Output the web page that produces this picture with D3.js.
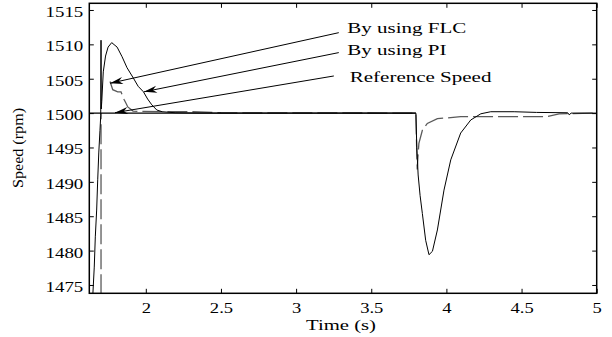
<!DOCTYPE html>
<html><head><meta charset="utf-8">
<script src="https://cdn.jsdelivr.net/npm/d3@7/dist/d3.min.js"></script>
<style>
html,body{margin:0;padding:0;background:#fff;}
svg{display:block;}
</style></head>
<body><svg id="c" width="612" height="337"></svg>
<script>
// ---- data ----
const xDomain = [1.624, 5];
const yDomain = [1473.79, 1515.97];
const xTicks = [2, 2.5, 3, 3.5, 4, 4.5, 5];
const yTicks = [1475, 1480, 1485, 1490, 1495, 1500, 1505, 1510, 1515];

// Reference speed
const refTime  = [1.624, 3.797];
const refSpeed = [1500, 1500];

// PI controller response
const piTime  = [1.640, 1.648, 1.657, 1.664, 1.673, 1.680, 1.687, 1.695, 1.700, 1.702, 1.7035, 1.707, 1.717, 1.732, 1.749, 1.773, 1.809, 1.842, 1.875, 1.917, 1.949, 1.984, 2.012, 2.040, 2.073, 2.109, 2.195, 2.36, 3.797, 3.803, 3.812, 3.825, 3.840, 3.862, 3.884, 3.907, 3.940, 3.984, 4.029, 4.095, 4.162, 4.229, 4.295, 4.451, 4.600, 4.807, 4.817, 4.830, 5.0];
const piSpeed = [1470, 1473.8, 1477.6, 1482.0, 1485.9, 1490.3, 1494.2, 1497.5, 1499.6, 1510.6, 1500.6, 1501.7, 1506.0, 1508.3, 1509.6, 1510.25, 1509.6, 1508.2, 1506.6, 1505.1, 1503.9, 1503.1, 1502.05, 1501.2, 1500.45, 1500.2, 1500.05, 1500, 1500, 1495, 1491, 1488, 1485.4, 1481.5, 1479.4, 1479.9, 1483.0, 1488.8, 1493.2, 1497.1, 1499.0, 1499.9, 1500.2, 1500.2, 1500.1, 1500.05, 1499.75, 1500, 1500];

// FLC response (null = gap)
const flcTime  = [1.702, 1.702, 1.7021, 1.762, 1.780, 1.813, 1.835, 1.847, 1.857, 1.869, 1.880, 1.915, 1.95, 2.30, 2.50, 3.797, 3.803, 3.806, 3.810, 3.817, 3.840, 3.873, 3.940, 4.007, 4.095, 4.670, 4.750, 5.0];
const flcSpeed = [1470, 1500, null, 1504.6, 1503.4, 1503.1, 1503.1, 1502.4, 1501.9, 1501.4, 1500.9, 1500.3, 1500.25, 1500.2, 1500.05, 1500, 1494, 1491.8, 1493.5, 1495.6, 1497.5, 1498.5, 1499.2, 1499.3, 1499.5, 1499.5, 1499.9, 1500];

// Annotations (data coordinates)
const annoLabels = ["By using FLC", "By using PI", "Reference Speed"];
const annoTipT   = [1.762, 1.988, 1.795];
const annoTipV   = [1504.34, 1503.1, 1500.06];
const annoTailT  = [3.284, 3.284, 3.251];
const annoTailV  = [1511.7, 1508.8, 1505.4];
const annoTextT  = [3.340, 3.340, 3.357];
const annoTextV  = [1511.6, 1508.45, 1504.57];

// ---- chart ----
const FONT = '"Liberation Serif", "Times New Roman", Tinos, "DejaVu Serif", serif';
const W = 612, H = 337;
const m = {left: 89.3, right: 15.3, top: 3.3, bottom: 43.7};
const svg = d3.select("#c");
const x = d3.scaleLinear().domain(xDomain).range([m.left, W - m.right]);
const y = d3.scaleLinear().domain(yDomain).range([H - m.bottom, m.top]);

function stretch(sel, f) {
  sel.each(function () {
    const L = this.getComputedTextLength();
    d3.select(this).attr("textLength", L * f).attr("lengthAdjust", "spacingAndGlyphs");
  });
}

svg.append("defs").append("clipPath").attr("id", "clip")
  .append("rect").attr("x", m.left).attr("y", m.top)
  .attr("width", W - m.left - m.right).attr("height", H - m.top - m.bottom);

const line = d3.line().defined(d => d[1] !== null).x(d => x(d[0])).y(d => y(d[1]));
const zip = (a, b) => a.map((v, i) => [v, b[i]]);

const g = svg.append("g").attr("clip-path", "url(#clip)");
g.append("path").datum(zip(flcTime, flcSpeed)).attr("d", line)
  .attr("fill", "none").attr("stroke", "#5a5a5a").attr("stroke-width", 1.3)
  .attr("stroke-dasharray", "20,5");
g.append("path").datum(zip(piTime, piSpeed)).attr("d", line)
  .attr("fill", "none").attr("stroke", "#000").attr("stroke-width", 1);
g.append("path").datum(zip(refTime, refSpeed)).attr("d", line)
  .attr("fill", "none").attr("stroke", "#000").attr("stroke-width", 1.2);

// axes (inward ticks on all sides)
const tl = 4.5;
const axB = d3.axisBottom(x).tickValues(xTicks).tickSizeInner(-tl).tickSizeOuter(0).tickPadding(9).tickFormat(d3.format("~g"));
const axT = d3.axisTop(x).tickValues(xTicks).tickSizeInner(-tl).tickSizeOuter(0).tickFormat("");
const axL = d3.axisLeft(y).tickValues(yTicks).tickSizeInner(-tl).tickSizeOuter(0).tickPadding(6).tickFormat(d3.format("d"));
const axR = d3.axisRight(y).tickValues(yTicks).tickSizeInner(-tl).tickSizeOuter(0).tickFormat("");

function style(sel) {
  sel.attr("font-family", FONT).attr("font-size", 15.5);
  sel.select(".domain").remove();
  sel.selectAll(".tick line").attr("stroke", "#000").attr("stroke-width", 1);
  sel.selectAll("text").attr("fill", "#000").attr("font-family", FONT).attr("font-size", 15.5);
}
svg.append("g").attr("transform", `translate(0,${H - m.bottom})`).call(axB).call(style)
   .selectAll("text").call(stretch, 1.2);
svg.append("g").attr("transform", `translate(0,${m.top})`).call(axT).call(style);
svg.append("g").attr("transform", `translate(${m.left},0)`).call(axL).call(style)
   .selectAll("text").attr("dy", "0.42em").call(stretch, 1.22);
svg.append("g").attr("transform", `translate(${W - m.right},0)`).call(axR).call(style);

// frame
svg.append("rect").attr("x", m.left).attr("y", m.top)
  .attr("width", W - m.left - m.right).attr("height", H - m.top - m.bottom)
  .attr("fill", "none").attr("stroke", "#000").attr("stroke-width", 1.5);

// axis titles
svg.append("text").attr("x", 341).attr("y", 330).attr("text-anchor", "middle")
  .attr("font-family", FONT).attr("font-size", 15).text("Time (s)").call(stretch, 1.38);
svg.append("text").attr("transform", "translate(23,148) rotate(-90)").attr("text-anchor", "middle")
  .attr("font-family", FONT).attr("font-size", 14).text("Speed (rpm)").call(stretch, 1.15);

// annotations
svg.select("defs").append("marker").attr("id", "arr")
  .attr("viewBox", "-1 -5 15 10").attr("refX", 13).attr("refY", 0)
  .attr("markerWidth", 15).attr("markerHeight", 10).attr("markerUnits", "userSpaceOnUse")
  .attr("orient", "auto")
  .append("path").attr("d", "M0,-3.6 L13,0 L0,3.6 L4,0 Z").attr("fill", "#000");

annoLabels.forEach((lab, i) => {
  svg.append("line")
    .attr("x1", x(annoTailT[i])).attr("y1", y(annoTailV[i]))
    .attr("x2", x(annoTipT[i])).attr("y2", y(annoTipV[i]))
    .attr("stroke", "#000").attr("stroke-width", 1).attr("marker-end", "url(#arr)");
  svg.append("text").attr("x", x(annoTextT[i])).attr("y", y(annoTextV[i]))
    .attr("font-family", FONT).attr("font-size", 15).text(lab).call(stretch, 1.4);
});
</script></body></html>
